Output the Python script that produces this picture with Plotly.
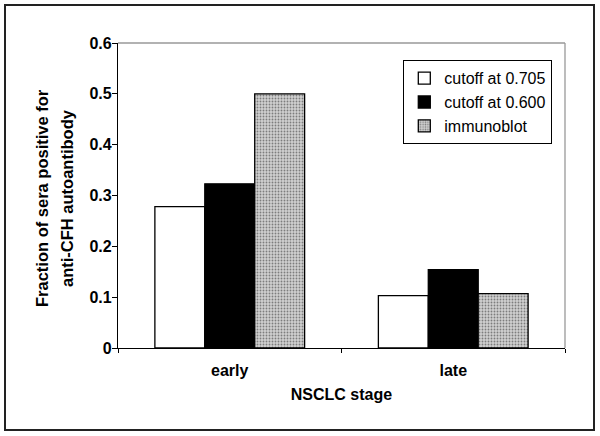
import plotly.graph_objects as go

categories = ["early", "late"]
cutoff_0705 = [0.278, 0.103]
cutoff_0600 = [0.323, 0.154]
immunoblot = [0.50, 0.107]
y_ticks = [0, 0.1, 0.2, 0.3, 0.4, 0.5, 0.6]
y_tick_labels = ["0", "0.1", "0.2", "0.3", "0.4", "0.5", "0.6"]
y_title_lines = ["Fraction of sera positive for", "anti-CFH autoantibody"]

W, H = 600, 436
L, R, T, B = 118, 35, 43, 88
pw, ph = W - L - R, H - T - B

def px_x(x):
    return (x - L) / pw

def px_y(y):
    return (H - B - y) / ph

FONT = "Liberation Sans, Arial, sans-serif"
line = dict(color="black", width=1.3)

fig = go.Figure()
fig.add_trace(go.Bar(name="cutoff at 0.705", x=categories, y=cutoff_0705,
                     marker=dict(color="white", line=line)))
fig.add_trace(go.Bar(name="cutoff at 0.600", x=categories, y=cutoff_0600,
                     marker=dict(color="black", line=line)))
fig.add_trace(go.Bar(name="immunoblot", x=categories, y=immunoblot,
                     marker=dict(color="#c0c0c0", line=line,
                                 pattern=dict(shape=".", fgcolor="#2a2a2a",
                                              bgcolor="#d0d0d0", size=3,
                                              solidity=0.3))))

annotations = []
for text, xp in zip(y_title_lines, [42, 67]):
    annotations.append(dict(
        text=f"<b>{text}</b>", xref="paper", yref="paper",
        x=px_x(xp), y=px_y(198), xanchor="center", yanchor="middle",
        textangle=-90, showarrow=False,
        font=dict(family=FONT, size=16.5, color="black")))

fig.update_layout(
    width=W, height=H,
    margin=dict(l=L, r=R, t=T, b=B),
    paper_bgcolor="white", plot_bgcolor="white",
    barmode="group", bargap=0.33, bargroupgap=0,
    font=dict(family=FONT, size=16, color="black"),
    showlegend=True,
    legend=dict(x=px_x(403), y=px_y(60), xanchor="left", yanchor="top",
                bordercolor="black", borderwidth=1.3, bgcolor="white",
                font=dict(family=FONT, size=16, color="black"),
                tracegroupgap=2, itemwidth=30),
    xaxis=dict(
        showline=True, linecolor="black", linewidth=1.3,
        ticks="outside", tickson="boundaries", ticklen=4, tickcolor="black",
        ticklabelstandoff=8,
        tickfont=dict(family=FONT, size=16, color="black", weight="bold"),
        title=dict(text="<b>NSCLC stage</b>", standoff=10,
                   font=dict(family=FONT, size=16, color="black")),
        showgrid=False,
    ),
    yaxis=dict(
        range=[0, 0.6], tickvals=y_ticks, ticktext=y_tick_labels,
        showline=True, linecolor="black", linewidth=1.3,
        ticks="outside", ticklen=5, tickcolor="black",
        ticklabelstandoff=-3,
        tickfont=dict(family=FONT, size=16, color="black", weight="bold"),
        showgrid=False, zeroline=False,
    ),
    annotations=annotations,
    shapes=[
        dict(type="line", xref="paper", yref="paper", x0=0, x1=1, y0=1, y1=1,
             line=dict(color="#999999", width=1.3)),
        dict(type="line", xref="paper", yref="paper", x0=1, x1=1, y0=0, y1=1,
             line=dict(color="#999999", width=1.3)),
        dict(type="rect", xref="paper", yref="paper",
             x0=px_x(5), x1=px_x(594), y0=px_y(430), y1=px_y(5),
             line=dict(color="#222222", width=2), layer="below"),
    ],
)

fig.write_html("out.html", config={"displayModeBar": False},
               post_script="document.body.style.margin='0px';")
